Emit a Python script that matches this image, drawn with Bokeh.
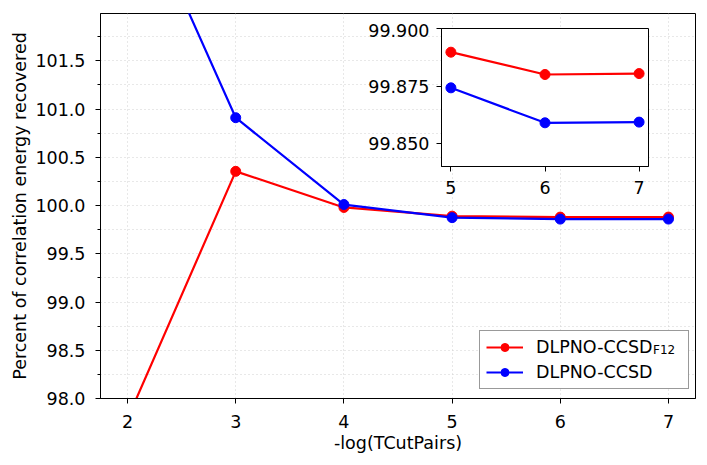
from bokeh.plotting import figure
from bokeh.layouts import column
from bokeh.models import (Range1d, FixedTicker, NumeralTickFormatter, Legend, LegendItem, Div)
from bokeh.embed import file_html
from bokeh.resources import INLINE

# ---- data ----
tcut = [2, 3, 4, 5, 6, 7]
f12_pct = [97.79, 100.354, 99.98, 99.8897, 99.880, 99.8804]
ccsd_pct = [103.42, 100.91, 100.01, 99.8742, 99.859, 99.8593]
inset_x = [5, 6, 7]
inset_f12 = [99.8897, 99.880, 99.8804]
inset_ccsd = [99.8742, 99.859, 99.8593]
y_major = [98.0, 98.5, 99.0, 99.5, 100.0, 100.5, 101.0, 101.5]
y_minor = [98.25, 98.75, 99.25, 99.75, 100.25, 100.75, 101.25, 101.75]
x_major = [2, 3, 4, 5, 6, 7]
inset_y_ticks = [99.850, 99.875, 99.900]
labels = ["DLPNO-CCSD", "DLPNO-CCSD"]
sub_label = "F12"

FONT = "DejaVu Sans"
FS = "17.5px"
RED = "#ff0000"
BLUE = "#0000ff"

p = figure(width=700, height=460, frame_width=595, frame_height=385,
           output_backend="svg", toolbar_location=None,
           x_range=Range1d(1.75, 7.25), y_range=Range1d(98.0, 101.99),
           min_border_left=100, min_border_right=5, min_border_top=13, min_border_bottom=62)
p.outline_line_color = "black"
p.outline_line_width = 1
p.background_fill_color = "white"
p.border_fill_color = "white"

p.xaxis.ticker = FixedTicker(ticks=x_major)
p.yaxis.ticker = FixedTicker(ticks=y_major, minor_ticks=y_minor)
p.yaxis.formatter = NumeralTickFormatter(format="0.0")
for ax in (p.xaxis[0], p.yaxis[0]):
    ax.major_label_text_font = FONT
    ax.major_label_text_font_size = FS
    ax.major_label_text_color = "black"
    ax.axis_label_text_font = FONT
    ax.axis_label_text_font_size = FS
    ax.axis_label_text_font_style = "normal"
    ax.axis_label_text_color = "black"
    ax.axis_line_color = "black"
    ax.major_tick_line_color = "black"
    ax.minor_tick_line_color = "black"
    ax.major_tick_out = 5
    ax.major_tick_in = 0
    ax.minor_tick_out = 3
    ax.minor_tick_in = 0
p.xaxis.minor_tick_line_color = None
p.xaxis.axis_label = "-log(TCutPairs)"
p.yaxis.axis_label = "Percent of correlation energy recovered"
p.xaxis.major_label_standoff = 11
p.yaxis.major_label_standoff = 10
p.xaxis.axis_label_standoff = 2
p.yaxis.axis_label_standoff = 2

p.xgrid.grid_line_color = "#d0d0d0"
p.xgrid.grid_line_dash = "1 3"
p.ygrid.grid_line_color = "#d0d0d0"
p.ygrid.grid_line_dash = "1 3"
p.ygrid.minor_grid_line_color = "#d0d0d0"
p.ygrid.minor_grid_line_dash = "1 3"

l1 = p.line(tcut, f12_pct, line_color=RED, line_width=2.2)
s1 = p.scatter(tcut, f12_pct, size=10, fill_color=RED, line_color=RED)
l2 = p.line(tcut, ccsd_pct, line_color=BLUE, line_width=2.2)
s2 = p.scatter(tcut, ccsd_pct, size=10, fill_color=BLUE, line_color=BLUE)

legend = Legend(items=[LegendItem(label=labels[0], renderers=[l1, s1]),
                       LegendItem(label=labels[1], renderers=[l2, s2])],
                location=(379, 9), label_text_font=FONT, label_text_font_size=FS,
                label_text_color="black",
                glyph_width=37, glyph_height=20, label_height=20, label_width=146,
                label_standoff=13, spacing=5, padding=6, margin=0,
                border_line_color="#333333", border_line_width=1,
                background_fill_color="white", background_fill_alpha=1)
p.add_layout(legend, "center")

# ---- inset ----
ins = figure(frame_width=207, frame_height=138,
             output_backend="svg", toolbar_location=None,
             x_range=Range1d(4.9, 7.1), y_range=Range1d(99.84, 99.9),
             min_border_left=100, min_border_right=5, min_border_top=5, min_border_bottom=60,
             margin=(-437, 0, 234, 341))
ins.border_fill_color = None
ins.background_fill_color = "white"
ins.outline_line_color = "black"
ins.outline_line_width = 1
ins.grid.grid_line_color = None
ins.xaxis.ticker = FixedTicker(ticks=inset_x)
ins.yaxis.ticker = FixedTicker(ticks=inset_y_ticks)
ins.yaxis.formatter = NumeralTickFormatter(format="0.000")
for ax in (ins.xaxis[0], ins.yaxis[0]):
    ax.major_label_text_font = FONT
    ax.major_label_text_font_size = FS
    ax.major_label_text_color = "black"
    ax.axis_line_color = "black"
    ax.major_tick_line_color = "black"
    ax.minor_tick_line_color = None
    ax.major_tick_out = 5
    ax.major_tick_in = 0
ins.xaxis.major_label_standoff = 9
ins.yaxis.major_label_standoff = 7
ins.line(inset_x, inset_f12, line_color=RED, line_width=2.2)
ins.scatter(inset_x, inset_f12, size=10, fill_color=RED, line_color=RED)
ins.line(inset_x, inset_ccsd, line_color=BLUE, line_width=2.2)
ins.scatter(inset_x, inset_ccsd, size=10, fill_color=BLUE, line_color=BLUE)

# subscript of the first legend label (overlined F12)
sub = Div(text=sub_label, width=30, height=15, margin=(-117, 0, 102, 653),
          styles={"font-family": FONT, "font-size": "12px", "line-height": "15px",
                  "text-decoration": "overline", "color": "black"})

layout = column(p, ins, sub)
open("out.html", "w").write(file_html(layout, INLINE))
